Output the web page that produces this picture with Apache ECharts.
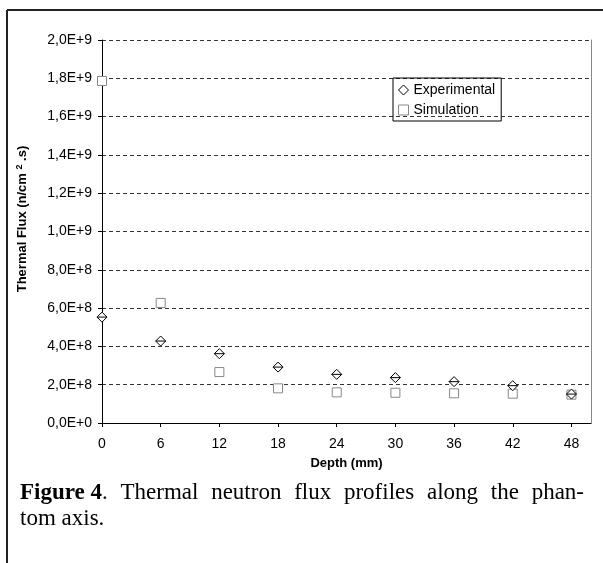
<!DOCTYPE html>
<html>
<head>
<meta charset="utf-8">
<script src="https://cdn.jsdelivr.net/npm/echarts@6/dist/echarts.min.js"></script>
<style>html,body{margin:0;padding:0;background:#fff}#c{width:603px;height:563px}</style>
</head>
<body>
<div id="c"></div>
<script>
const depth = [0, 6, 12, 18, 24, 30, 36, 42, 48];
const experimental = [5.53e8, 4.28e8, 3.62e8, 2.92e8, 2.54e8, 2.37e8, 2.16e8, 1.95e8, 1.51e8];
const simulation = [1.786e9, 6.27e8, 2.66e8, 1.81e8, 1.60e8, 1.58e8, 1.55e8, 1.53e8, 1.48e8];
const xTicks = [0, 6, 12, 18, 24, 30, 36, 42, 48];
const seriesNames = ['Experimental', 'Simulation'];
const xTitle = 'Depth (mm)';
const captionLine1Words = ['Figure 4.', 'Thermal', 'neutron', 'flux', 'profiles', 'along', 'the', 'phan-'];
const captionLine2 = 'tom axis.';

function sci(v) {
  if (v === 0) return '0,0E+0';
  const e = Math.floor(Math.log10(v) + 1e-9);
  const m = v / Math.pow(10, e);
  return m.toFixed(1).replace('.', ',') + 'E+' + e;
}

const sans = '"Liberation Sans", Arial, sans-serif';
const serif = '"Liberation Serif", "Times New Roman", serif';
const capSize = 23;

// justified first caption line
const ctx = document.createElement('canvas').getContext('2d');
function wWidth(t, bold) {
  ctx.font = (bold ? 'bold ' : '') + capSize + 'px ' + serif;
  return ctx.measureText(t).width;
}
const capLeft = 20, capRight = 584, capY1 = 493, capY2 = 519;
const capGraphics = [];
(function () {
  const parts = captionLine1Words.map((w, i) => {
    if (i === 0) return { a: 'Figure 4', b: '.', w: wWidth('Figure 4', true) + wWidth('.', false) };
    return { a: w, w: wWidth(w, false) };
  });
  const total = parts.reduce((s, p) => s + p.w, 0);
  const gap = (capRight - capLeft - total) / (parts.length - 1);
  let x = capLeft;
  parts.forEach((p, i) => {
    let text;
    if (i === 0) text = '{b|' + p.a + '}{r|' + p.b + '}';
    else text = '{r|' + p.a + '}';
    capGraphics.push({
      type: 'text', x: x, y: capY1,
      style: {
        text: text, verticalAlign: 'middle', align: 'left',
        rich: {
          b: { fontSize: capSize, fontWeight: 'bold', fontFamily: serif, fill: '#000' },
          r: { fontSize: capSize, fontFamily: serif, fill: '#000' }
        }
      }
    });
    x += p.w + gap;
  });
  capGraphics.push({
    type: 'text', x: capLeft, y: capY2,
    style: { text: captionLine2, verticalAlign: 'middle', align: 'left', fontSize: capSize, fontFamily: serif, fill: '#000' }
  });
})();

const chart = echarts.init(document.getElementById('c'));
chart.setOption({
  backgroundColor: '#fff',
  animation: false,
  grid: { left: 102, right: 12, top: 40, bottom: 140 },
  legend: {
    orient: 'vertical', left: 393, top: 78,
    borderColor: '#000', borderWidth: 1, borderRadius: 0,
    padding: [5, 6, 4, 5], itemGap: 6, itemWidth: 10, itemHeight: 10,
    textStyle: { fontSize: 14, color: '#000', fontFamily: sans },
    data: [
      { name: seriesNames[0], icon: 'diamond', itemStyle: { color: '#fff', borderColor: '#000', borderWidth: 1 } },
      { name: seriesNames[1], icon: 'rect', itemStyle: { color: '#fff', borderColor: '#888', borderWidth: 1 } }
    ]
  },
  xAxis: {
    type: 'value', min: 0, max: 50, interval: 6,
    name: xTitle, nameLocation: 'middle', nameGap: 34,
    nameTextStyle: { fontSize: 13, fontWeight: 'bold', color: '#000', fontFamily: sans },
    axisLine: { show: true, lineStyle: { color: '#000', width: 1 } },
    axisTick: { show: true, length: 4, lineStyle: { color: '#000' }, customValues: xTicks },
    axisLabel: { fontSize: 14, color: '#000', fontFamily: sans, margin: 14, customValues: xTicks },
    splitLine: { show: false }
  },
  yAxis: [{
    type: 'value', min: 0, max: 2e9, interval: 2e8,
    axisLine: { show: true, lineStyle: { color: '#000', width: 1 } },
    axisTick: { show: true, length: 4, lineStyle: { color: '#000' } },
    axisLabel: { fontSize: 14, color: '#000', fontFamily: sans, margin: 10, formatter: sci },
    splitLine: { show: true, lineStyle: { color: '#333', type: [4, 3], width: 1 } }
  }, {
    type: 'value', min: 0, max: 2e9, position: 'right',
    axisLine: { show: true, lineStyle: { color: '#888', width: 1 } },
    axisTick: { show: false }, axisLabel: { show: false }, splitLine: { show: false }
  }],
  series: [
    {
      name: seriesNames[1], type: 'scatter', clip: false, z: 2,
      symbol: 'rect', symbolSize: 9,
      itemStyle: { color: '#fff', borderColor: '#888', borderWidth: 1, opacity: 1 },
      data: depth.map((d, i) => [d, simulation[i]])
    },
    {
      name: seriesNames[0], type: 'scatter', clip: false, z: 3,
      symbol: 'path://M5,0 L10,5 L5,10 L0,5 Z M0,5 L10,5', symbolSize: [10, 10],
      itemStyle: { color: '#fff', borderColor: '#000', borderWidth: 1, opacity: 1 },
      data: depth.map((d, i) => [d, experimental[i]])
    }
  ],
  graphic: [
    { type: 'line', shape: { x1: 7, y1: 10, x2: 603, y2: 10 }, style: { stroke: '#222', lineWidth: 2 } },
    { type: 'line', shape: { x1: 7, y1: 10, x2: 7, y2: 563 }, style: { stroke: '#222', lineWidth: 2 } },
    {
      type: 'text', x: 22, y: 219, rotation: Math.PI / 2,
      style: {
        text: '{n|Thermal Flux (n/cm }{s|2}{n| .s)}',
        align: 'center', verticalAlign: 'middle',
        rich: {
          n: { fontSize: 13, fontWeight: 'bold', fontFamily: sans, fill: '#000', lineHeight: 14, verticalAlign: 'bottom' },
          s: { fontSize: 9, fontWeight: 'bold', fontFamily: sans, fill: '#000', lineHeight: 14, verticalAlign: 'top' }
        }
      }
    }
  ].concat(capGraphics)
});
</script>
</body>
</html>
